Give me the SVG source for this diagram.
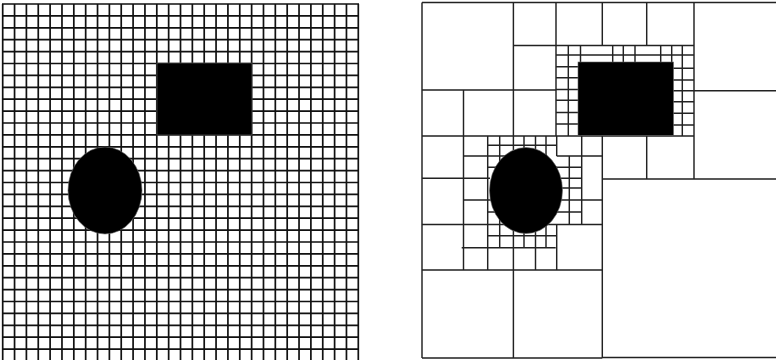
<svg xmlns="http://www.w3.org/2000/svg" width="776" height="360" viewBox="0 0 776 360">
<style>
.bg{fill:#fff}
.uniform{fill:none;stroke:#111;stroke-width:1.7}
.adaptive{fill:none;stroke:#222;stroke-width:1.45}
.obstacle{fill:#000;stroke:#666;stroke-width:.6}
</style>
<rect class="bg" width="776" height="360"/>
<g id="uniform-grid">
<path class="uniform" d="M2.7 4V360M14.55 4V360M26.4 4V360M38.26 4V360M50.11 4V360M61.97 4V360M73.82 4V360M85.67 4V360M97.53 4V360M109.38 4V360M121.23 4V360M133.09 4V360M144.94 4V360M156.8 4V360M168.65 4V360M180.5 4V360M192.36 4V360M204.21 4V360M216.06 4V360M227.92 4V360M239.77 4V360M251.63 4V360M263.48 4V360M275.33 4V360M287.19 4V360M299.04 4V360M310.89 4V360M322.75 4V360M334.6 4V360M346.46 4V360M358.3 4V360"/>
<path class="uniform" d="M2 4H359M2 15.9H359M2 27.8H359M2 39.7H359M2 51.6H359M2 63.5H359M2 75.4H359M2 87.3H359M2 99.2H359M2 111.1H359M2 123H359M2 134.9H359M2 146.8H359M2 158.7H359M2 170.6H359M2 182.5H359M2 194.4H359M2 206.3H359M2 218.2H359M2 230.1H359M2 242H359M2 253.9H359M2 265.8H359M2 277.7H359M2 289.6H359M2 301.5H359M2 313.4H359M2 325.3H359M2 337.2H359M2 349.1H359"/>
<rect class="obstacle" x="157" y="63" width="95" height="72"/>
<ellipse class="obstacle" cx="105" cy="190.5" rx="37" ry="43.5"/>
</g>
<g id="adaptive-grid">
<path class="adaptive" d="M422 2.5V358M513.4 2.5V136M556 2.5V136M602.3 2.5V45.5M646.7 2.5V45.5M694 2.5V179M463.5 90V270M513.4 248V358M602.3 136V358M646.7 136V179"/>
<path class="adaptive" d="M422 2.5H776M513.4 45.5H694M422 90H556M694 90.7H776M422 136H694M422 178.3H490M602.3 179H776M422 224.4H602.3M422 270H602.3M422 358H602.3M602.3 357.5H776"/>
<path class="adaptive" d="M487.7 136V270M499.7 136V248M513.4 136V150M513.4 230V248M524 136V150M524 230V248M535.5 136V270M546 136V248M556.7 136V156M556.7 224.4V270M569.3 156V224.4M581.7 136V224.4"/>
<path class="adaptive" d="M487.7 145.3H556.7M463.5 156H510M556.7 156H602.3M487.7 167.3H500M552 167.3H581.7M552 178.3H581.7M560 188H581.7M463.5 200H492M558 200H602.3M487.7 212H498M555 212H581.7M487.7 235.7H556.7M461.7 247.8H555.7"/>
<path class="adaptive" d="M568.3 45.5V136M580.5 45.5V136M612.7 45.5V62M623.3 45.5V62M635 45.5V62M660.7 45.5V62M671.7 45.5V62M682.3 45.5V136"/>
<path class="adaptive" d="M556 55H694M556 66.7H580.5M556 77.7H580.5M556 89.5H580.5M556 100.3H580.5M556 112.5H580.5M556 124H580.5M673 68.3H694M673 80H694M673 90.7H694M673 101.7H694M673 113.3H694M673 125H694"/>
<rect class="obstacle" x="578" y="62" width="95.5" height="73.5"/>
<ellipse class="obstacle" cx="526" cy="190.5" rx="36.5" ry="43"/>
</g>
</svg>
